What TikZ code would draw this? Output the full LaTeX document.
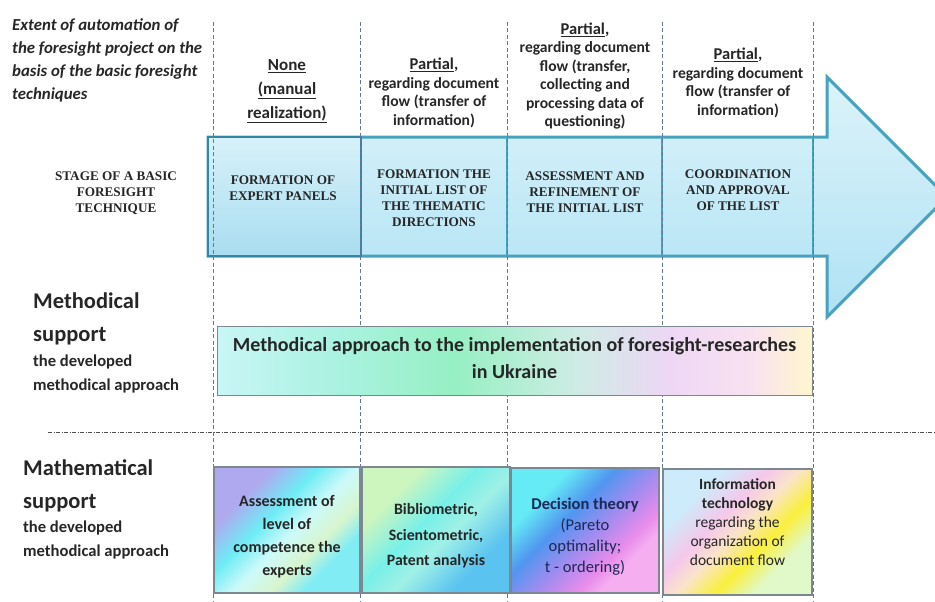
\documentclass[tikz,border=0pt]{standalone}
\usepackage{fontspec}
\setmainfont{Carlito}
\newfontfamily\stagefont{Liberation Serif}
\usepackage{tikz}
\usepackage{xcolor}
\definecolor{arrowline}{RGB}{70,162,190}
\definecolor{arrowdark}{RGB}{50,136,162}
\definecolor{arrowtop}{RGB}{220,243,250}
\definecolor{arrowbottom}{RGB}{175,226,244}
\definecolor{guideblue}{RGB}{95,120,155}
\definecolor{boxgrey}{RGB}{125,135,145}
\definecolor{navytext}{RGB}{28,40,85}
% approach box
\definecolor{apA}{RGB}{200,246,246}
\definecolor{apB}{RGB}{170,242,225}
\definecolor{apC}{RGB}{150,240,195}
\definecolor{apD}{RGB}{205,236,228}
\definecolor{apE}{RGB}{238,215,245}
\definecolor{apF}{RGB}{248,226,240}
\definecolor{apG}{RGB}{255,246,205}
% technique boxes
\definecolor{asA}{RGB}{175,170,240}
\definecolor{asB}{RGB}{110,236,245}
\definecolor{asC}{RGB}{205,250,250}
\definecolor{asD}{RGB}{215,245,205}
\definecolor{asE}{RGB}{130,236,245}
\definecolor{biA}{RGB}{205,245,190}
\definecolor{biB}{RGB}{120,240,232}
\definecolor{biC}{RGB}{160,240,230}
\definecolor{biD}{RGB}{90,195,240}
\definecolor{deA}{RGB}{100,235,245}
\definecolor{deB}{RGB}{80,150,240}
\definecolor{deC}{RGB}{160,140,240}
\definecolor{deD}{RGB}{232,140,235}
\definecolor{deE}{RGB}{245,175,240}
\definecolor{inA}{RGB}{205,235,250}
\definecolor{inB}{RGB}{245,200,235}
\definecolor{inC}{RGB}{250,228,200}
\definecolor{inD}{RGB}{250,240,60}
\definecolor{inE}{RGB}{225,248,200}

\pgfdeclarehorizontalshading{approach-shade}{100bp}{color(0bp)=(apA); color(25bp)=(apA); color(35bp)=(apB); color(45bp)=(apC); color(55bp)=(apD); color(63bp)=(apE); color(70bp)=(apF); color(75bp)=(apG); color(100bp)=(apG)}
\pgfdeclarehorizontalshading{assess-shade}{100bp}{color(0bp)=(asA); color(30bp)=(asA); color(42bp)=(asB); color(52bp)=(asC); color(62bp)=(asD); color(70bp)=(asE); color(100bp)=(asE)}
\pgfdeclarehorizontalshading{biblio-shade}{100bp}{color(0bp)=(biA); color(30bp)=(biA); color(45bp)=(biB); color(55bp)=(biC); color(70bp)=(biD); color(100bp)=(biD)}
\pgfdeclarehorizontalshading{decision-shade}{100bp}{color(0bp)=(deA); color(30bp)=(deA); color(42bp)=(deB); color(53bp)=(deC); color(64bp)=(deD); color(70bp)=(deE); color(100bp)=(deE)}
\pgfdeclarehorizontalshading{info-shade}{100bp}{color(0bp)=(inA); color(30bp)=(inA); color(42bp)=(inB); color(50bp)=(inC); color(60bp)=(inD); color(70bp)=(inE); color(100bp)=(inE)}

\tikzset{
    stage-arrow/.style = {draw=arrowline, line width=3pt, line join=miter, top color=arrowtop, bottom color=arrowbottom},
    first-stage/.style = {draw=arrowdark, line width=2.2pt, top color=arrowtop!90!arrowbottom, bottom color=arrowbottom!95!arrowdark},
    stage-divider/.style = {draw=arrowline, line width=1.6pt},
    guide-line/.style = {draw=guideblue, line width=0.8pt, dash pattern=on 4pt off 2.5pt},
    section-line/.style = {draw=black!70, line width=0.8pt, dash pattern=on 4pt off 1.5pt on 1pt off 1.5pt},
    extent-text/.style = {align=left, anchor=west, inner sep=0pt, text=black!85, font=\fontsize{16.8}{23}\selectfont\bfseries\itshape},
    level-text/.style = {align=center, inner sep=0pt, text=black!85, font=\fontsize{15.6}{18.5}\selectfont\bfseries},
    stage-text/.style = {align=center, inner sep=0pt, text=black!85, font=\stagefont\fontsize{13.2}{16}\selectfont\bfseries},
    support-head/.style = {align=left, anchor=west, inner sep=0pt, text=black!85, font=\fontsize{22.5}{32.5}\selectfont\bfseries},
    support-sub/.style = {align=left, anchor=west, inner sep=0pt, text=black!85, font=\fontsize{16.6}{24}\selectfont\bfseries},
    approach-box/.style = {draw=boxgrey, line width=1pt, shading=approach-shade, minimum width=595pt, minimum height=69pt, inner sep=0pt},
    tech-box/.style = {draw=boxgrey, line width=1.1pt, minimum height=126pt, inner sep=0pt, shading angle=-45},
    tech-text/.style = {align=center, inner sep=0pt, text=black!85, font=\fontsize{15.5}{23}\selectfont\bfseries},
}

\begin{document}
\begin{tikzpicture}[x=1pt, y=-1pt]
\useasboundingbox (0,0) rectangle (935,602);
\clip (0,0) rectangle (935,602);

% stages of the technique
\draw[stage-arrow] (208,137) -- (827,137) -- (827,77) -- (947,197) -- (827,317) -- (827,256) -- (208,256) -- cycle;
\draw[first-stage] (208,137) rectangle (361,256);
\draw[stage-divider] (507,137) -- (507,256) (662,137) -- (662,256) (813,137) -- (813,256);

\draw[guide-line] (213,22) -- (213,602) (360,22) -- (360,602) (507,22) -- (507,602)
    (662,22) -- (662,602) (813,22) -- (813,602);
\draw[section-line] (48,432) -- (935,432);

\node[extent-text] (extent) at (12,60) {Extent of automation of\\the foresight project on the\\basis of the basic foresight\\techniques};

% automation levels
\node[level-text, font=\fontsize{17}{24}\selectfont\bfseries] (level-none) at (287,91) {\underline{None}\\\underline{(manual}\\\underline{realization)}};
\node[level-text] (level-two) at (434,93) {{\fontsize{16.5}{18.5}\selectfont\underline{Partial},}\\regarding document\\flow (transfer of\\information)};
\node[level-text] (level-three) at (585,76) {{\fontsize{16.5}{18.5}\selectfont\underline{Partial},}\\regarding document\\flow (transfer,\\collecting and\\processing data of\\questioning)};
\node[level-text] (level-four) at (738,83) {{\fontsize{16.5}{18.5}\selectfont\underline{Partial},}\\regarding document\\flow (transfer of\\information)};

\node[stage-text] (stage-title) at (116,193) {STAGE OF A BASIC\\FORESIGHT\\TECHNIQUE};
\node[stage-text] (stage-panels) at (283,188) {FORMATION OF\\EXPERT PANELS};
\node[stage-text] (stage-list) at (434,198) {FORMATION THE\\INITIAL LIST OF\\THE THEMATIC\\DIRECTIONS};
\node[stage-text] (stage-refine) at (585,192) {ASSESSMENT AND\\REFINEMENT OF\\THE INITIAL LIST};
\node[stage-text] (stage-approve) at (738,190) {COORDINATION\\AND APPROVAL\\OF THE LIST};

% methodical support
\node[support-head] (method-head) at (33,319) {Methodical\\support};
\node[support-sub] (method-sub) at (33,374) {the developed\\methodical approach};
\node[approach-box] (approach) at (514.5,360.5) {};
\node[tech-text, font=\fontsize{20}{27}\selectfont\bfseries] (approach-text) at (514.5,358) {Methodical approach to the implementation of foresight-researches\\in Ukraine};

% mathematical support
\node[support-head] (math-head) at (23,486) {Mathematical\\support};
\node[support-sub] (math-sub) at (23,540) {the developed\\methodical approach};

\node[tech-box, minimum width=146pt, shading=assess-shade, shading angle=-45] (assess) at (287,530) {};
\node[tech-box, minimum width=148pt, shading=biblio-shade, shading angle=-45] (biblio) at (436,530) {};
\node[tech-box, minimum width=148pt, minimum height=125pt, shading=decision-shade, shading angle=-45] (decision) at (585,530.5) {};
\node[tech-box, minimum width=149pt, shading=info-shade, shading angle=-45] (info) at (737.5,532) {};

\node[tech-text, font=\fontsize{16}{23}\selectfont\bfseries] (assess-text) at (287,537) {Assessment of\\level of\\competence the\\experts};
\node[tech-text, font=\fontsize{15.8}{25.5}\selectfont\bfseries] (biblio-text) at (436,536) {Bibliometric,\\Scientometric,\\Patent analysis};
\node[tech-text, text=navytext, font=\fontsize{16.5}{21}\selectfont] (decision-text) at (585,536.5) {\textbf{Decision theory}\\(Pareto\\optimality;\\t - ordering)};
\node[tech-text, font=\fontsize{15.5}{19}\selectfont] (info-text) at (737.5,522.5) {\textbf{Information}\\\textbf{technology}\\regarding the\\organization of\\document flow};
\end{tikzpicture}
\end{document}
